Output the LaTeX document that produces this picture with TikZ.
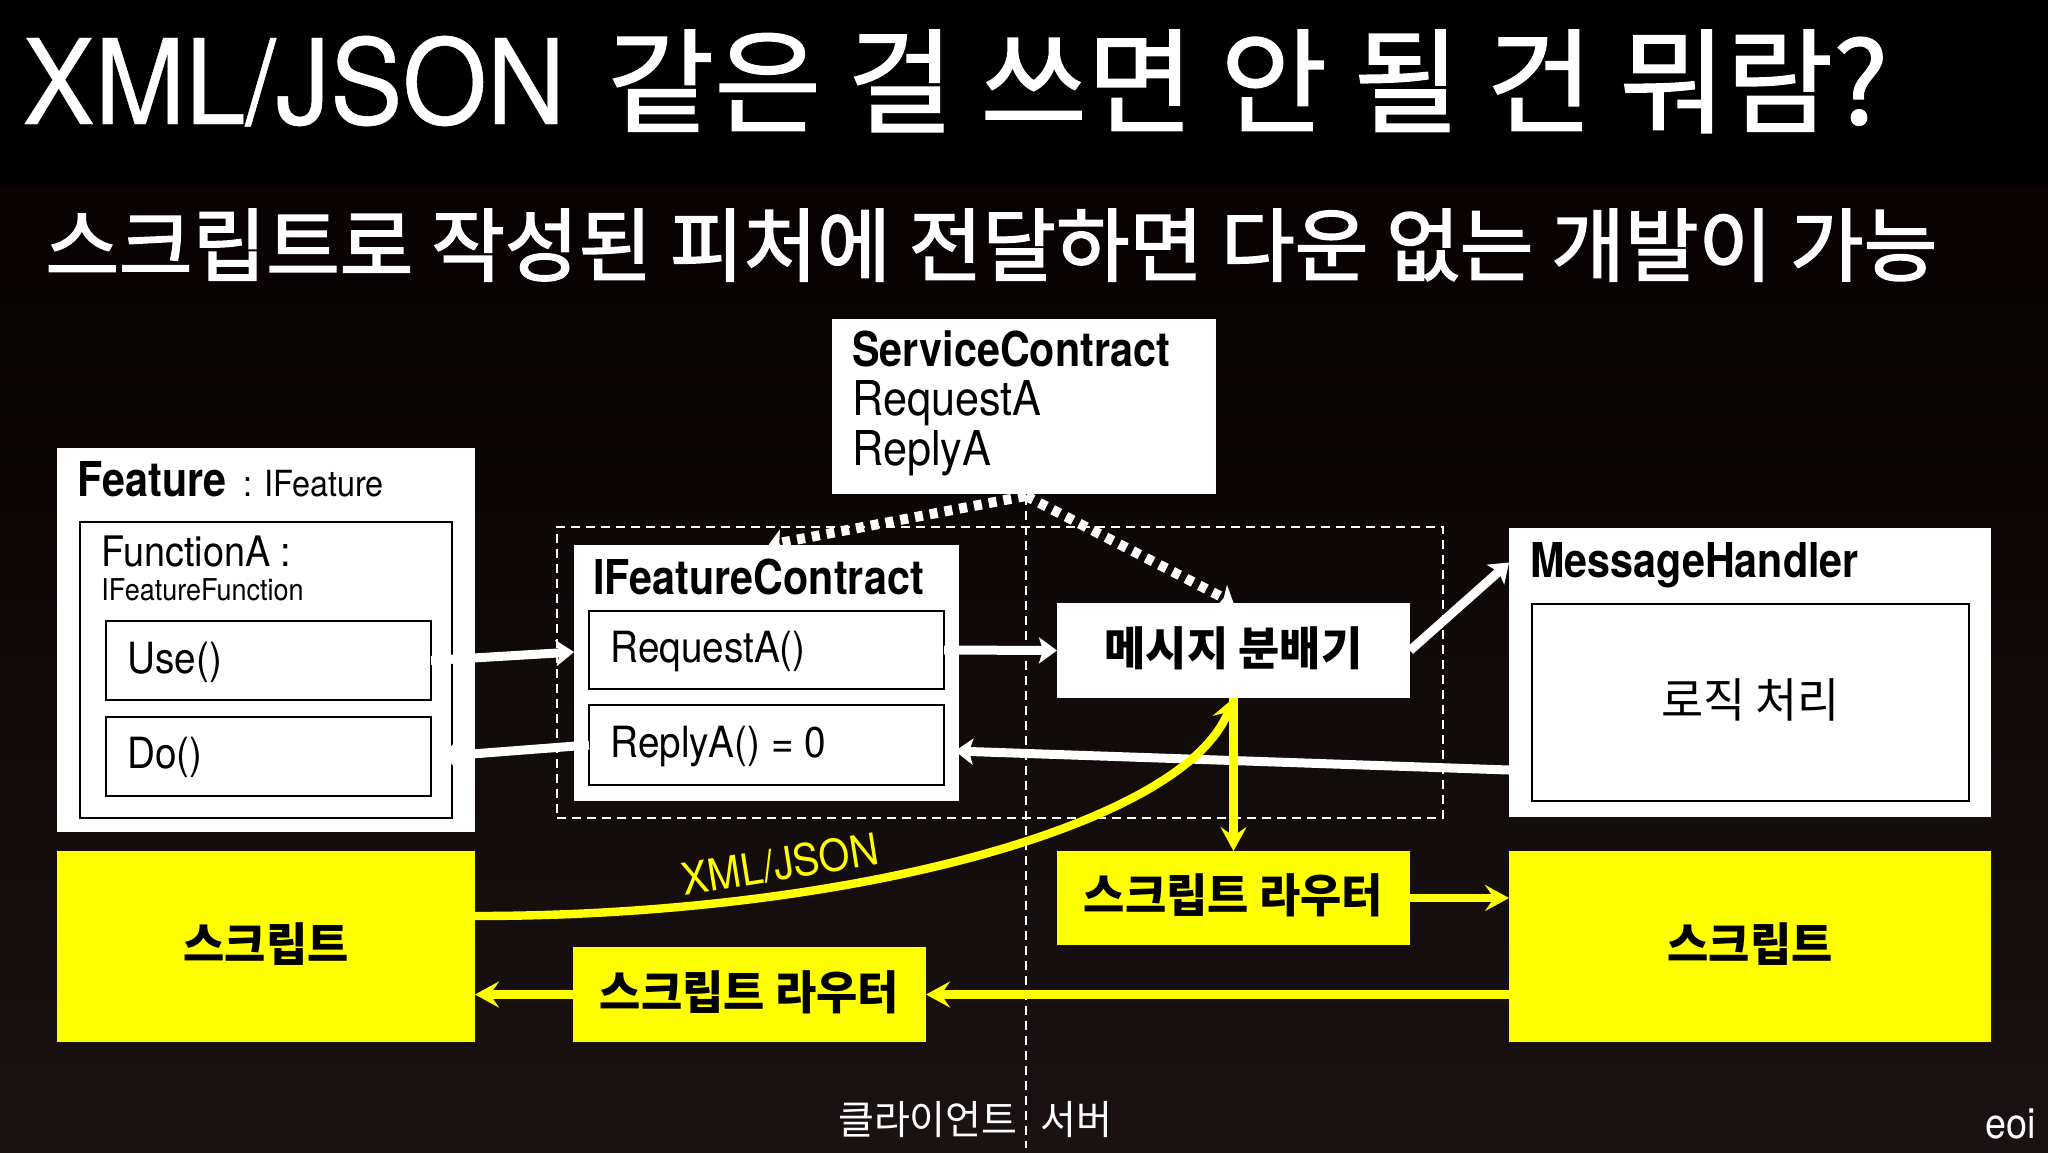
\documentclass[tikz,border=0pt]{standalone}
\usepackage{fontspec}
\setmainfont{TeX Gyre Heros}[FakeStretch=0.9,BoldFeatures={FakeStretch=0.86}]
\newfontfamily\kr{Noto Sans CJK KR}[FakeStretch=0.975]
\newfontfamily\tlat{TeX Gyre Heros}[FakeStretch=0.92,FakeBold=0.4]
\newfontfamily\tkr{Noto Sans CJK KR}[FakeStretch=1.02,FakeBold=1.2]
\newfontfamily\skr{Noto Sans CJK KR}[FakeStretch=1.0,FakeBold=2]
\usetikzlibrary{arrows.meta,shapes.geometric,calc}
\definecolor{scr}{RGB}{255,255,0}
\definecolor{bgband}{RGB}{8,2,2}
\definecolor{bgtop}{RGB}{8,4,2}
\definecolor{bgbot}{RGB}{26,18,18}
\newcommand\up[1]{\raisebox{1.3pt}[\height][\depth]{#1}}
\tikzset{
  wbox/.style={fill=white,inner sep=0pt,outer sep=0pt},
  lbox/.style={fill=white,draw=black,line width=1pt,inner sep=0pt,outer sep=0pt},
  ybox/.style={fill=scr,inner sep=0pt,outer sep=0pt},
  frm/.style={draw=white,line width=1.1pt,dash pattern=on 4.5pt off 3pt,inner sep=0pt},
  tx/.style={inner sep=0pt,anchor=base west,text=black},
  wire/.style={white,line width=4.5pt,-{Stealth[length=9pt,width=13pt,inset=2pt]}},
  dotw/.style={white,line width=5pt,dash pattern=on 4pt off 3.5pt,
    -{Stealth[length=7pt,width=13pt,inset=1.5pt,sep=0pt]}},
  ywire/.style={scr,line width=4.2pt,-{Stealth[length=12pt,width=13pt,inset=4.5pt]}},
}
\begin{document}
\begin{tikzpicture}[x=0.5pt,y=-0.5pt]
    \useasboundingbox (0,0) rectangle (2048,1152);
    \fill[black] (0,0) rectangle (2048,185);
    \fill[bgband] (0,185) rectangle (2048,298);
    \shade[top color=bgtop,bottom color=bgbot] (0,298) rectangle (2048,1152);
    % titles
    \draw
    (22,124) node[tx,text=white](Title){\fontsize{59}{59}\selectfont\tlat XML/JSON\hspace{21pt}\fontsize{57}{57}\selectfont\tkr 같은 걸 쓰면 안 될 건 뭐람?}
    (45,275) node[tx,text=white,font=\fontsize{40}{40}\selectfont\skr](Sub){스크립트로 작성된 피처에 전달하면 다운 없는 개발이 가능};
    % boxes
    \draw
    (1000,672.5) node[frm,minimum width=443pt,minimum height=145.5pt](Scope){}
    (266,640) node[wbox,minimum width=209pt,minimum height=192pt](Feature){}
    (266,670) node[lbox,minimum width=186pt,minimum height=148pt](FuncA){}
    (268.5,660.5) node[lbox,minimum width=162.5pt,minimum height=39.5pt](Use){}
    (268.5,756.5) node[lbox,minimum width=162.5pt,minimum height=39.5pt](Do){}
    (766.5,673) node[wbox,minimum width=192.5pt,minimum height=128pt](Contract){}
    (766.5,650) node[lbox,minimum width=177.5pt,minimum height=39pt](Req){}
    (766.5,745) node[lbox,minimum width=177.5pt,minimum height=40pt](Rep){}
    (1024,406.5) node[wbox,minimum width=192pt,minimum height=87.5pt](Service){}
    (1233.5,650.5) node[wbox,minimum width=176.5pt,minimum height=47.5pt,font=\fontsize{23}{23}\selectfont\kr\bfseries](Disp){\up{메시지 분배기}}
    (1750,672.5) node[wbox,minimum width=241pt,minimum height=144.5pt](Handler){}
    (1750.5,702.5) node[lbox,minimum width=218.5pt,minimum height=98.5pt,font=\fontsize{23.5}{23.5}\selectfont\kr](Logic){\up{로직 처리}}
    (1233.5,898) node[ybox,minimum width=176.5pt,minimum height=47pt,font=\fontsize{23}{23}\selectfont\kr\bfseries](RouterR){\up{스크립트 라우터}}
    (1750,946.5) node[ybox,minimum width=241pt,minimum height=95.5pt,font=\fontsize{23}{23}\selectfont\kr\bfseries](ScriptR){\up{스크립트}}
    (266,946.5) node[ybox,minimum width=209pt,minimum height=95.5pt,font=\fontsize{23}{23}\selectfont\kr\bfseries](ScriptL){\up{스크립트}}
    (749.5,994.5) node[ybox,minimum width=176.5pt,minimum height=47.5pt,font=\fontsize{23}{23}\selectfont\kr\bfseries](RouterL){\up{스크립트 라우터}};
    % box texts
    \draw
    (852,366) node[tx,font=\fontsize{24}{24}\selectfont\bfseries](SvcName){ServiceContract}
    (852,415) node[tx,font=\fontsize{24}{24}\selectfont](SvcReq){RequestA}
    (852,465) node[tx,font=\fontsize{24}{24}\selectfont](SvcRep){ReplyA}
    (77,496) node[tx,font=\fontsize{24}{24}\selectfont\bfseries](FeatName){Feature}
    (243,496) node[tx,font=\fontsize{18}{18}\selectfont](FeatType){: IFeature}
    (101,566) node[tx,font=\fontsize{21}{21}\selectfont](FuncName){FunctionA :}
    (101,600) node[tx,font=\fontsize{15}{15}\selectfont](FuncType){IFeatureFunction}
    (127,673) node[tx,font=\fontsize{21.5}{21.5}\selectfont](UseTx){Use()}
    (127,768) node[tx,font=\fontsize{21.5}{21.5}\selectfont](DoTx){Do()}
    (593,594) node[tx,font=\fontsize{24}{24}\selectfont\bfseries](ContrName){IFeatureContract}
    (610,662) node[tx,font=\fontsize{21.5}{21.5}\selectfont](ReqTx){RequestA()}
    (610,757) node[tx,font=\fontsize{21.5}{21.5}\selectfont](RepTx){ReplyA() = 0}
    (1530,577) node[tx,font=\fontsize{24}{24}\selectfont\bfseries](HandName){MessageHandler};
    % connectors
    \coordinate (SvcFoot) at (1026,496);
    \coordinate (LineEnd) at (1026,1148);
    \draw[frm] (SvcFoot) -- (LineEnd);
    \draw[wire] (Use.east) -- ([yshift=10.5pt]Contract.west);
    \draw[wire] (Rep.west) -- ([xshift=4pt]Do.east);
    \draw[wire] (Req.east) -- (Disp.west);
    \draw[wire] (Disp.east) -- ([yshift=55pt]Handler.west);
    \draw[dotw] (SvcFoot) -- ([xshift=1pt]Contract.north);
    \draw[dotw] (SvcFoot) -- (Disp.north);
    \draw[wire] (Handler.west|-0,770) -- ([yshift=-3pt,xshift=-2pt]Contract.east|-Rep.east);
    \draw[ywire] (ScriptL.east|-0,916) .. controls (850,916) and (1185,825) .. (Disp.south);
    \draw[ywire] (Disp.south) -- (RouterR.north);
    \draw[ywire] (RouterR.east) -- (ScriptR.west|-RouterR.east);
    \draw[ywire] (ScriptR.west|-RouterL.east) -- (RouterL.east);
    \draw[ywire] (RouterL.west) -- (ScriptL.east|-RouterL.west);
    % free labels
    \draw
    (780,864) node[rotate=9,text=scr,inner sep=0pt,font=\fontsize{22}{22}\selectfont](Fmt){XML/JSON}
    (1018,1120) node[text=white,anchor=east,inner sep=0pt,font=\fontsize{20}{20}\selectfont\kr](Client){클라이언트}
    (1040,1120) node[text=white,anchor=west,inner sep=0pt,font=\fontsize{20}{20}\selectfont\kr](Server){서버}
    (2036,1124) node[text=white,anchor=east,inner sep=0pt,font=\fontsize{21}{21}\selectfont](Brand){eoi};
  \end{tikzpicture}
\end{document}
